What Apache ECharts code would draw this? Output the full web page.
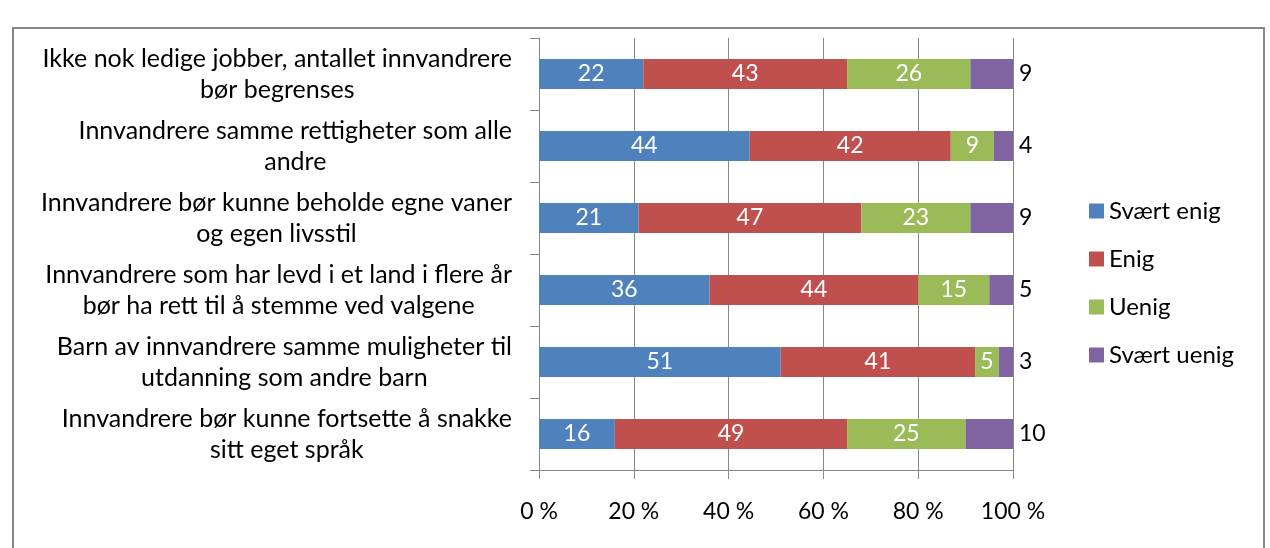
<!DOCTYPE html>
<html>
<head>
<meta charset="utf-8">
<script src="https://cdn.jsdelivr.net/npm/echarts@6/dist/echarts.min.js"></script>
<style>
html,body{margin:0;padding:0;background:#fff;}
#c{width:1270px;height:548px;}
</style>
</head>
<body>
<div id="c"></div>
<script>
const categories = [
  "Ikke nok ledige jobber, antallet innvandrere\nbør begrenses",
  "Innvandrere samme rettigheter som alle\nandre",
  "Innvandrere bør kunne beholde egne vaner\nog egen livsstil",
  "Innvandrere som har levd i et land i flere år\nbør ha rett til å stemme ved valgene",
  "Barn av innvandrere samme muligheter til\nutdanning som andre barn",
  "Innvandrere bør kunne fortsette å snakke\nsitt eget språk"
];
const seriesNames = ["Svært enig", "Enig", "Uenig", "Svært uenig"];
const svaertEnig = [22, 44, 21, 36, 51, 16];
const enig = [43, 42, 47, 44, 41, 49];
const uenig = [26, 9, 23, 15, 5, 25];
const svaertUenig = [9, 4, 9, 5, 3, 10];
const xTicks = [0, 20, 40, 60, 80, 100];

const colors = ["#4F81BD", "#C0504D", "#9BBB59", "#8064A2"];
const FONT = "Lato, 'Open Sans', sans-serif";

// 100 % stacked: each row is scaled to its own total, labels show the raw values
const allSeries = [svaertEnig, enig, uenig, svaertUenig];
const totals = categories.map((_, i) => allSeries.reduce((s, arr) => s + arr[i], 0));

const chart = echarts.init(document.getElementById('c'));

function barSeries(name, data, idx, inside) {
  return {
    name: name,
    type: 'bar',
    stack: 'total',
    data: data.map((v, i) => ({ value: v / totals[i] * 100, raw: v })),
    barWidth: 30,
    itemStyle: { color: colors[idx] },
    label: Object.assign({
      show: true,
      fontFamily: FONT,
      formatter: p => String(p.data.raw)
    }, inside ? {
      position: 'inside', color: '#fff', fontSize: 23
    } : {
      position: 'right', distance: 6, color: '#000', fontSize: 23
    }),
    emphasis: { disabled: true }
  };
}

chart.setOption({
  animation: false,
  backgroundColor: '#fff',
  textStyle: { fontFamily: FONT },
  grid: { left: 539, right: 257, top: 38, bottom: 78, containLabel: false },
  legend: {
    orient: 'vertical',
    left: 1089,
    top: 199,
    padding: 0,
    itemWidth: 15,
    itemHeight: 15,
    itemGap: 24,
    itemTextGap: 8,
    itemStyle: { borderWidth: 0 },
    textStyle: { fontFamily: FONT, fontSize: 24, color: '#000' },
    data: seriesNames.map((n, i) => ({ name: n, icon: 'rect', itemStyle: { color: colors[i] } }))
  },
  xAxis: {
    type: 'value',
    min: 0, max: 100, interval: 20,
    axisLine: { show: true, lineStyle: { color: '#868686', width: 1 } },
    axisTick: { show: true, length: 9, lineStyle: { color: '#868686' } },
    splitLine: { show: true, lineStyle: { color: '#868686', width: 1 } },
    axisLabel: {
      margin: 30,
      fontFamily: FONT, fontSize: 23, color: '#000',
      formatter: v => xTicks.includes(v) ? v + ' %' : ''
    }
  },
  yAxis: {
    type: 'category',
    inverse: true,
    data: categories,
    axisLine: { show: true, lineStyle: { color: '#868686', width: 1 } },
    axisTick: { show: true, length: 9, lineStyle: { color: '#868686' } },
    axisLabel: {
      margin: 27,
      align: 'right',
      fontFamily: FONT, fontSize: 25, color: '#000',
      lineHeight: 31,
      formatter: v => v.split('\n').map(l => '{c|' + l + '}').join('\n'),
      rich: { c: { align: 'center', fontFamily: FONT, fontSize: 25, color: '#000', lineHeight: 31 } }
    }
  },
  graphic: [{
    type: 'rect',
    shape: { x: 13, y: 28, width: 1251, height: 540 },
    style: { fill: 'none', stroke: '#868686', lineWidth: 2 },
    silent: true, z: -1
  }],
  series: [
    barSeries(seriesNames[0], svaertEnig, 0, true),
    barSeries(seriesNames[1], enig, 1, true),
    barSeries(seriesNames[2], uenig, 2, true),
    barSeries(seriesNames[3], svaertUenig, 3, false)
  ]
});
</script>
</body>
</html>
